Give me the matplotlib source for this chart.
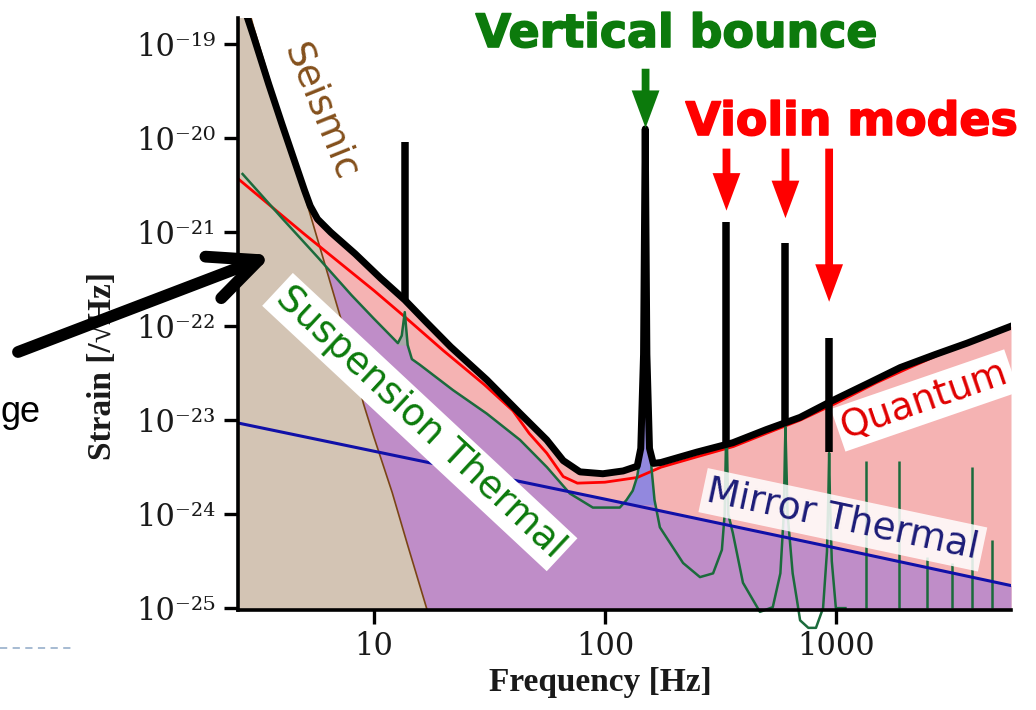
import numpy as np
import matplotlib
matplotlib.use("Agg")
import matplotlib.pyplot as plt
import matplotlib.patheffects as pe
from matplotlib.lines import Line2D

# values are log10(strain [1/sqrt(Hz)])

# total noise (thick black curve)
total_f = [2.65, 3.0, 3.5, 4.0, 4.5, 5.0, 5.3, 5.7, 6.5, 8.3, 10.7, 13.6, 16.6, 21.5, 30.8,
           43, 56, 66, 78, 98, 120, 138, 143, 147, 149.5, 152, 156, 162, 175, 250,
           358, 500, 700, 970, 1400, 1900, 2700, 3700, 5730]
total_log = [-18.5, -18.9, -19.42, -19.85, -20.22, -20.55, -20.72, -20.86, -21.0, -21.23,
             -21.49, -21.72, -21.94, -22.22, -22.57, -22.93, -23.21, -23.43, -23.55, -23.57,
             -23.54, -23.49, -23.3, -22.3, -19.9, -22.3, -23.3, -23.46, -23.45, -23.34,
             -23.24, -23.10, -22.97, -22.79, -22.60, -22.44, -22.30, -22.18, -22.0]

# quantum noise (red)
quantum_f = [2.58, 5, 10, 13.6, 20, 30, 40, 47, 56, 66, 76, 100, 138, 175, 250, 360,
             500, 700, 1000, 1500, 2000, 3000, 4000, 5730]
quantum_log = [-20.43, -21.02, -21.62, -21.90, -22.26, -22.62, -22.90, -23.14, -23.35,
               -23.60, -23.67, -23.66, -23.61, -23.50, -23.39, -23.28, -23.14, -23.00,
               -22.82, -22.60, -22.46, -22.27, -22.16, -22.0]

# suspension thermal (green)
susp_f = [2.7, 4, 5.73, 8, 10, 12.7, 13.2, 13.6, 14.0, 14.6, 15.8, 22, 30.8, 42.9, 56.1,
          70.5, 88.7, 108, 116, 124, 132, 138, 143, 147, 149.5, 151, 152.5, 155, 159,
          164, 173, 218, 258, 294, 321, 330, 334, 336, 338, 342, 358, 396, 469, 533,
          575, 595, 602, 605, 608, 618, 650, 678, 700, 760, 820, 880, 915, 928, 935,
          942, 960, 1000, 1100]
susp_log = [-20.38, -20.85, -21.27, -21.67, -21.92, -22.18, -22.10, -21.85, -22.20,
            -22.35, -22.41, -22.68, -22.93, -23.21, -23.50, -23.78, -23.93, -23.93,
            -23.93, -23.85, -23.75, -23.60, -23.35, -22.8, -21.5, -20.5, -21.5, -22.8,
            -23.5, -23.85, -24.14, -24.52, -24.67, -24.63, -24.38, -24.0, -23.3, -22.57,
            -23.3, -24.0, -24.2, -24.73, -25.04, -24.99, -24.63, -24.0, -23.3, -23.07,
            -23.3, -24.0, -24.63, -24.91, -25.13, -25.21, -25.21, -25.0, -24.4, -23.8,
            -23.35, -23.8, -24.5, -25.0, -25.0]

# higher violin harmonics (thin green spikes)
harm_f = [1349, 1875, 2478, 3178, 3880, 4733]
harm_log = [-23.43, -23.43, -24.46, -24.52, -23.50, -24.28]

# mirror thermal (blue)
mirror_f = [2.58, 10, 100, 1000, 5730]
mirror_log = [-23.03, -23.33, -23.84, -24.36, -24.76]

# seismic (brown)
seis_f = [2.58, 3, 4, 5, 6, 7, 8, 9, 10, 12, 14, 17, 19]
seis_log = [-18.2, -18.8, -19.82, -20.6, -21.26, -21.82, -22.3, -22.82, -23.18, -23.77,
            -24.33, -25.02, -25.4]

# resonance peaks sticking out of the total curve
peak_f = [13.6, 336, 605, 935]
peak_lo = [-21.72, -23.25, -23.02, -23.34]
peak_hi = [-20.04, -20.89, -21.11, -22.13]

# annotation arrows
bounce_f = 150
bounce_from, bounce_to = -19.26, -19.89
violin_f = [336, 605, 935]
violin_from = -20.11
violin_to = [-20.77, -20.85, -21.74]

ytick_exp = [-19, -20, -21, -22, -23, -24, -25]
ytick_labels = ['10⁻¹⁹', '10⁻²⁰', '10⁻²¹', '10⁻²²', '10⁻²³', '10⁻²⁴', '10⁻²⁵']
xtick_vals = [10, 100, 1000]
xtick_labels = ['10', '100', '1000']

W, H = 1036, 710
PINK = '#f5b3b3'
PURPLE = '#bf8dc8'
TAN = '#d3c4b4'
GREEN = '#1b6b3c'

fig = plt.figure(figsize=(W / 100, H / 100), dpi=100)
ax = fig.add_axes([238 / W, 1 - 610 / H, (1011 - 238) / W, (610 - 18) / H])
ax.set_xscale('log')
ax.set_yscale('log')
ax.set_xlim(2.58, 5730)
ax.set_ylim(10 ** -25.02, 10 ** -18.72)

lo = 10 ** -25.5
T = 10 ** np.array(total_log)
Q = 10 ** np.array(quantum_log)
S = 10 ** np.array(susp_log)
M = 10 ** np.array(mirror_log)
Z = 10 ** np.array(seis_log)
sf = np.array(susp_f)

# fills, back to front
ax.fill_between(total_f, lo, T, color=PINK, lw=0, zorder=1)
ax.fill_between(mirror_f, lo, M, color=PURPLE, lw=0, zorder=1.1)
ax.fill_between(susp_f, lo, S, color=PURPLE, lw=0, zorder=1.1)
# tinted tips of the resonances
base = 10 ** -23.9
ax.fill_between(sf, base, S, where=(sf > 110) & (sf < 180) & (S > base), interpolate=True,
                color='#9288de', lw=0, zorder=1.2)
base = 10 ** -22.2
ax.fill_between(sf, base, S, where=(sf > 12) & (sf < 15) & (S > base), interpolate=True,
                color='#a8a8a8', lw=0, zorder=1.2)
ax.fill_between(seis_f, lo, Z, color=TAN, lw=0, zorder=1.3)

# lines
ax.plot(seis_f, Z, color='#7a4416', lw=1.2, zorder=2)
ax.plot(quantum_f, Q, color='#ff0000', lw=2.0, zorder=2.1)
ax.plot(susp_f, S, color=GREEN, lw=1.8, zorder=2.2, clip_on=False)
ax.vlines(harm_f, 10 ** -25.0, 10 ** np.array(harm_log), color=GREEN, lw=1.8, zorder=2.2)
ax.plot(mirror_f, M, color='#1010a8', lw=2.2, zorder=2.3)
ax.plot(total_f, T, color='black', lw=5, zorder=4, solid_joinstyle='round')
ax.vlines(peak_f, 10 ** np.array(peak_lo), 10 ** np.array(peak_hi), color='black', lw=5.4, zorder=4)

# curve labels
box = dict(boxstyle='square,pad=0.12', fc='white', ec='none')
kw = dict(ha='center', va='center', rotation_mode='anchor', fontsize=27, zorder=3)
ax.text(5.84, 10 ** -19.72, 'Seismic', rotation=-68, color='#84501c', **kw)
ax.text(15.8, 10 ** -23.02, 'Suspension Thermal', rotation=-43, color='#0b7a0b', bbox=box, **kw)
ax.text(1072, 10 ** -24.06, 'Mirror Thermal', rotation=-12, color='#1c1c78',
        bbox=dict(boxstyle='square,pad=0.12', fc='white', ec='none', alpha=0.85), **kw)
ax.text(2427, 10 ** -22.79, 'Quantum', rotation=19, color='#e00000', bbox=box, **kw)

# peak arrows
ax.annotate('', xy=(bounce_f, 10 ** bounce_to), xytext=(bounce_f, 10 ** bounce_from),
            arrowprops=dict(arrowstyle='simple,head_length=1.35,head_width=1.0,tail_width=0.28',
                            mutation_scale=20, color='#0c7a0c', lw=0, shrinkA=0, shrinkB=0),
            annotation_clip=False, zorder=5)
for f, tip in zip(violin_f, violin_to):
    ax.annotate('', xy=(f, 10 ** tip), xytext=(f, 10 ** violin_from),
                arrowprops=dict(arrowstyle='simple,head_length=1.35,head_width=1.0,tail_width=0.28',
                                mutation_scale=20, color='#ff0000', lw=0, shrinkA=0, shrinkB=0),
                annotation_clip=False, zorder=5)

heavy = dict(ha='center', va='baseline', fontsize=33, fontweight='bold')
fig.text(677 / W, 1 - 47 / H, 'Vertical bounce', color='#0c7a0c',
         path_effects=[pe.withStroke(linewidth=1.2, foreground='#0c7a0c')], **heavy)
fig.text(852 / W, 1 - 135 / H, 'Violin modes', color='#ff0000',
         path_effects=[pe.withStroke(linewidth=1.2, foreground='#ff0000')], **heavy)

# axes styling
for side in ['top', 'right']:
    ax.spines[side].set_visible(False)
for side in ['left', 'bottom']:
    ax.spines[side].set_linewidth(2.6)
ax.set_yticks([10.0 ** e for e in ytick_exp])
ax.set_yticklabels(ytick_labels)
ax.set_xticks(xtick_vals)
ax.set_xticklabels(xtick_labels)
ax.minorticks_off()
ax.tick_params(axis='both', direction='out', length=10, width=2.4, labelsize=22,
               labelcolor='#1a1a1a', labelfontfamily='DejaVu Serif')
ax.tick_params(axis='x', pad=5)
ax.tick_params(axis='y', pad=6)

lab = dict(fontsize=24, fontweight='bold', family=['Liberation Serif', 'DejaVu Serif'], color='#1a1a1a')
ax.set_xlabel('Frequency [Hz]', **lab)
ax.set_ylabel('Strain [/√Hz]', **lab)
ax.xaxis.set_label_coords((600 - 238) / 773, -0.097)
ax.yaxis.set_label_coords(-0.155, 0.412)

# slide leftovers: pointer arrow, cut text, dashed rule
ax.annotate('', xy=(272, H - 255), xycoords='figure pixels',
            xytext=(18, H - 352), textcoords='figure pixels',
            arrowprops=dict(arrowstyle='->,head_length=3.5,head_width=1.6', lw=8.5,
                            color='black', shrinkA=0, shrinkB=0, mutation_scale=10),
            annotation_clip=False, zorder=6)
fig.text(0.0, 1 - 422 / H, 'ge', fontsize=26, family='Liberation Sans', va='baseline', ha='left')
fig.add_artist(Line2D([0, 75 / W], [1 - 648 / H] * 2, transform=fig.transFigure,
                      color='#9fb5cf', lw=1.3, ls=(0, (4, 3))))

fig.savefig('out.png', dpi=100)
